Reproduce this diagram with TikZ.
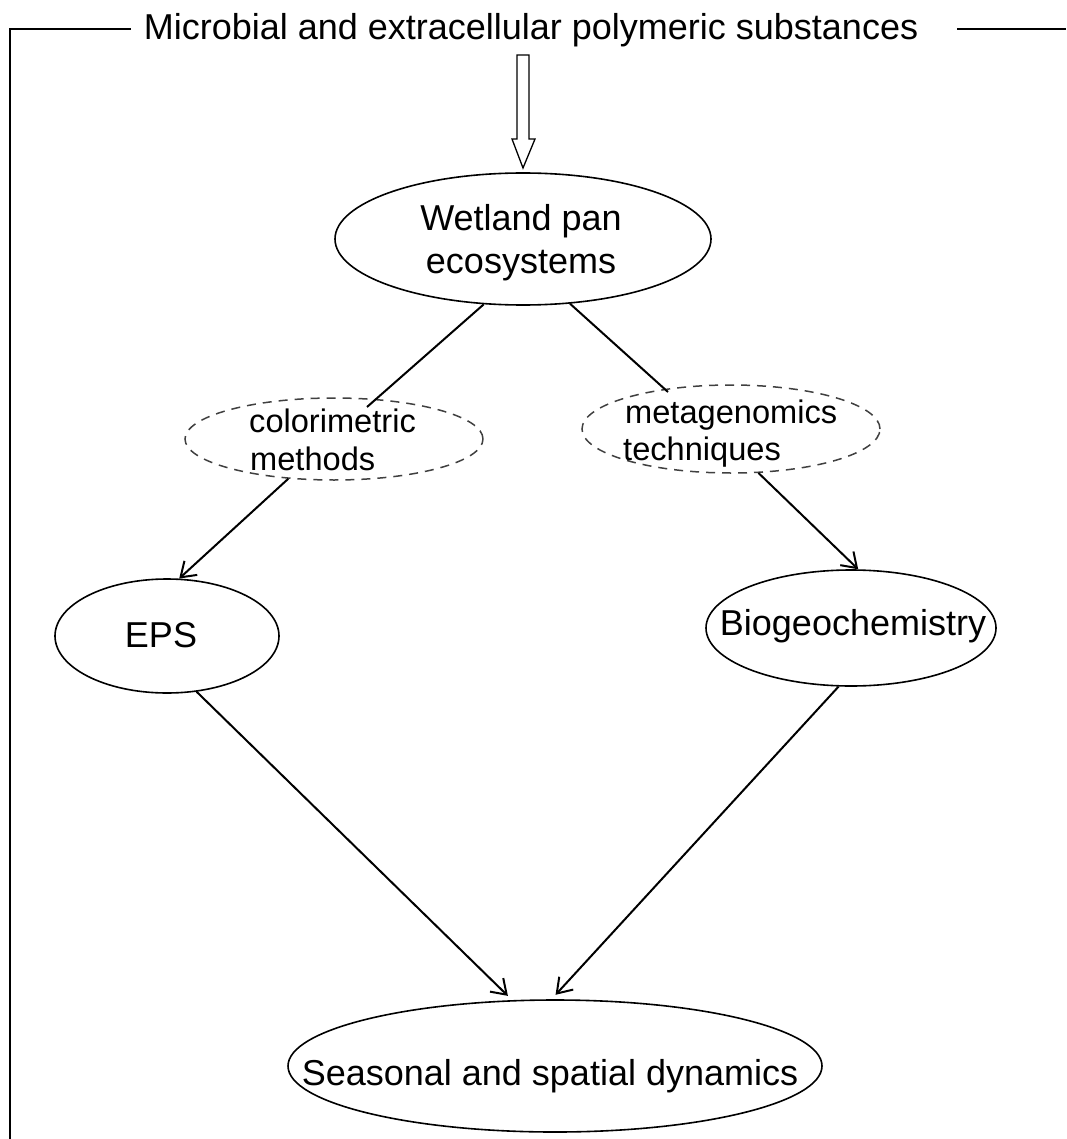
\documentclass[tikz,border=0pt]{standalone}
\usepackage{fontspec}
\setmainfont{Liberation Sans}
\usetikzlibrary{arrows.meta,shapes.geometric,calc}
\begin{document}
\begin{tikzpicture}[x=1pt,y=-1pt,
  big/.style={font=\fontsize{36}{42}\selectfont, inner sep=0pt},
  small/.style={font=\fontsize{32.6}{38}\selectfont, inner sep=0pt},
  oval/.style={ellipse, draw, line width=1.6pt, inner sep=0pt},
  dashoval/.style={ellipse, draw=black!75, line width=1.5pt, dash pattern=on 9pt off 7pt, inner sep=0pt},
  conn/.style={line width=2pt},
  arr/.style={conn, -{Straight Barb[length=14pt,width=19pt,line width=2pt]}},
  framel/.style={line width=2.2pt}]
\useasboundingbox (0,0) rectangle (1066,1139);

% frame and title
\node[big, anchor=base] (title) at (531,40) {Microbial and extracellular polymeric substances};
\coordinate (fbl) at (10,1139);
\coordinate (ftl) at (10,29);
\coordinate (fl) at (131,29);
\coordinate (fr) at (957,29);
\coordinate (fre) at (1066,29);
\draw[framel] (fbl) -- (ftl) -- (fl);
\draw[framel] (fr) -- (fre);

% ellipses
\node[oval, minimum width=376pt, minimum height=132pt] (wet) at (523,239) {};
\node[dashoval, minimum width=298pt, minimum height=82pt] (col) at (334,439) {};
\node[dashoval, minimum width=298pt, minimum height=88pt] (meta) at (731,429) {};
\node[oval, minimum width=224pt, minimum height=114pt] (eps) at (167,636) {};
\node[oval, minimum width=290pt, minimum height=116pt] (bio) at (851,628) {};
\node[oval, minimum width=534pt, minimum height=132pt] (sea) at (555,1066) {};

% texts
\node[big, anchor=base] (wetA) at (521,231) {Wetland pan};
\node[big, anchor=base] (wetB) at (521,273) {ecosystems};
\node[small, anchor=base west] (colA) at (249,432) {colorimetric};
\node[small, anchor=base west] (colB) at (250,470) {methods};
\node[small, anchor=base west] (metaA) at (625,423) {metagenomics};
\node[small, anchor=base west] (metaB) at (623,460) {techniques};
\node[big, anchor=base] (epsT) at (161,647) {EPS};
\node[big, anchor=base] (bioT) at (853,635) {Biogeochemistry};
\node[big, anchor=base] (seaT) at (550,1085) {Seasonal and spatial dynamics};

% hollow arrow from title to wetland
\coordinate (hs) at (523,55);
\coordinate (ht) at (523,168);
\draw[line width=1.3pt, fill=white] ($(hs)+(-6,0)$) -- ($(hs)+(6,0)$) -- ($(ht)+(6,-29)$) -- ($(ht)+(12,-29)$) -- (ht) -- ($(ht)+(-11,-29)$) -- ($(ht)+(-6,-29)$) -- cycle;

% connectors
\coordinate (colIn) at (367,407);
\coordinate (metaIn) at (668,392);
\draw[conn] (wet.239) -- (colIn);
\draw[conn] (wet.306) -- (metaIn);
\draw[arr] (col.221) -- (eps.78);
\draw[arr] (meta.302) -- (bio.83);
\draw[arr, shorten >=6pt] (eps.298) -- (sea.123);
\draw[arr, shorten >=6pt] (bio.258) -- (sea.93);
\end{tikzpicture}
\end{document}
